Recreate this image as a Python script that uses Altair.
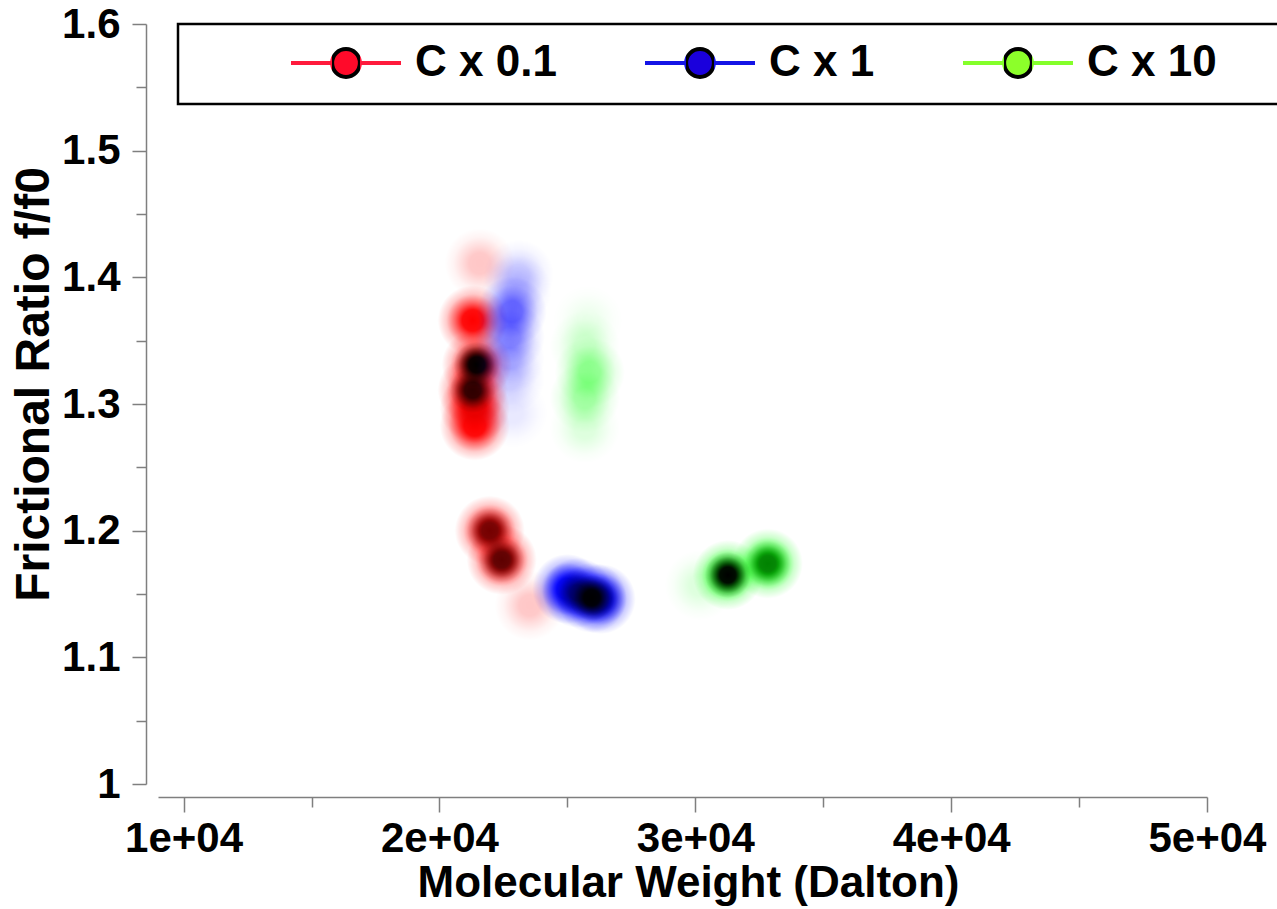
import altair as alt
import pandas as pd

FONT = "Liberation Sans"

SERIES = ["C x 0.1", "C x 1", "C x 10"]
LINE_COLORS = ["#ff1a3c", "#1414e6", "#84ff2a"]
MARKER_COLORS = ["#ff0a2a", "#1a00dc", "#8cff2a"]
BLOB_RGB = [(255, 0, 0), (0, 0, 255), (0, 255, 0)]

# solutes per sample: molecular weight (Da), frictional ratio, relative concentration
RED_MW = [21574, 21300, 21457, 21300, 21378, 21378, 21965, 22434, 23529]
RED_FF0 = [1.411, 1.366, 1.331, 1.311, 1.297, 1.283, 1.200, 1.177, 1.141]
RED_CONC = [0.10, 0.45, 1.00, 0.90, 0.50, 0.45, 0.75, 0.80, 0.10]

BLUE_MW = [23099, 23020, 22825, 22747, 22747, 22747, 22864, 25000, 25400, 25953, 26300]
BLUE_FF0 = [1.402, 1.390, 1.373, 1.353, 1.336, 1.320, 1.293, 1.154, 1.151, 1.147, 1.146]
BLUE_CONC = [0.08, 0.08, 0.25, 0.18, 0.10, 0.08, 0.04, 0.45, 0.75, 1.00, 0.60]

GREEN_MW = [25797, 25680, 25875, 25680, 25680, 30176, 31270, 32835]
GREEN_FF0 = [1.366, 1.346, 1.325, 1.305, 1.281, 1.157, 1.165, 1.174]
GREEN_CONC = [0.03, 0.08, 0.18, 0.15, 0.06, 0.06, 1.00, 0.72]

X_TICKS = [10000, 15000, 20000, 25000, 30000, 35000, 40000, 45000, 50000]
Y_TICKS = [1.0, 1.05, 1.1, 1.15, 1.2, 1.25, 1.3, 1.35, 1.4, 1.45, 1.5, 1.55, 1.6]

HALO_PROFILE = [(0.0, 1.0), (0.3, 0.95), (0.5, 0.6), (0.75, 0.2), (1.0, 0.0)]
CORE_PROFILE = [(0.0, 1.0), (0.35, 0.95), (0.55, 0.6), (0.8, 0.18), (1.0, 0.0)]

# legend glyph: a horizontal line with a circle in the middle (unit half-length = 1)
R = 0.2523
LEGEND_GLYPH = (
    f"M-1,0H{-R} M{R},0H1 "
    f"M{-R},0A{R},{R} 0 1,0 {R},0A{R},{R} 0 1,0 {-R},0Z"
)
# glyph outline: series colour along the line, black around the circle
LINE_COLOR_EXPR = "[{colors}][indexof([{names}], datum.value)]".format(
    colors=", ".join(f"'{c}'" for c in LINE_COLORS),
    names=", ".join(f"'{s}'" for s in SERIES),
)
GLYPH_STROKE_EXPR = (
    "{gradient: 'linear', x1: 0, y1: 0, x2: 1, y2: 0, stops: ["
    "{offset: 0, color: LC}, {offset: 0.372, color: LC}, "
    "{offset: 0.372, color: 'black'}, {offset: 0.628, color: 'black'}, "
    "{offset: 0.628, color: LC}, {offset: 1, color: LC}]}"
).replace("LC", LINE_COLOR_EXPR)


def radial(rgb, profile):
    r, g, b = rgb
    return {
        "gradient": "radial",
        "stops": [{"offset": o, "color": f"rgba({r},{g},{b},{a})"} for o, a in profile],
    }


axis_common = dict(
    grid=False,
    domainColor="#7f7f7f",
    domainWidth=1.5,
    tickColor="#7f7f7f",
    tickWidth=1.5,
    labelFont=FONT,
    labelFontSize=42,
    labelFontWeight="bold",
    labelColor="black",
    labelOverlap=False,
    labelFlush=False,
    titleFont=FONT,
    titleFontWeight="bold",
    titleColor="black",
    titleBaseline="middle",
)

x_axis = alt.Axis(
    values=X_TICKS,
    labelExpr="datum.value % 10000 == 0 ? (datum.value / 10000) + 'e+04' : ''",
    tickSize={"condition": {"test": "datum.value % 10000 == 0", "value": 15}, "value": 10},
    offset=13,
    labelPadding=6,
    title="Molecular Weight (Dalton)",
    titleFontSize=44,
    titleX=530,
    titleY=86,
    **axis_common,
)

y_axis = alt.Axis(
    values=Y_TICKS,
    labelExpr="abs(datum.value * 10 - round(datum.value * 10)) < 0.01 ? format(datum.value, '.1~f') : ''",
    tickSize={"condition": {"test": "abs(datum.value * 10 - round(datum.value * 10)) < 0.01", "value": 14}, "value": 10},
    offset=12,
    labelPadding=12,
    title="Frictional Ratio f/f0",
    titleFontSize=48,
    titleX=-112,
    titleY=360,
    **axis_common,
)

x_enc = alt.X("mw:Q", scale=alt.Scale(domain=[9000, 50000], nice=False, zero=False), axis=x_axis)
y_enc = alt.Y("ff0:Q", scale=alt.Scale(domain=[1.0, 1.6], nice=False, zero=False), axis=y_axis)

samples = [
    (RED_MW, RED_FF0, RED_CONC, BLOB_RGB[0]),
    (BLUE_MW, BLUE_FF0, BLUE_CONC, BLOB_RGB[1]),
    (GREEN_MW, GREEN_FF0, GREEN_CONC, BLOB_RGB[2]),
]

layers = []

# legend frame
layers.append(
    alt.Chart(alt.Data(values=[{"frame": 1}]))
    .mark_rect(fill="white", stroke="black", strokeWidth=2.5)
    .encode(x=alt.value(20), x2=alt.value(1150), y=alt.value(0), y2=alt.value(80))
)

# each solute is drawn as a soft colour halo plus a dark core that grows with concentration
for mw, ff0, conc, rgb in samples:
    df = pd.DataFrame({"mw": mw, "ff0": ff0, "conc": conc})
    base = alt.Chart(df).encode(x=x_enc, y=y_enc)
    halo = base.mark_circle(size=4900, fill=radial(rgb, HALO_PROFILE)).encode(
        opacity=alt.Opacity("conc:Q", scale=alt.Scale(domain=[0, 0.45], range=[0, 1], clamp=True), legend=None)
    )
    core = base.mark_circle(size=2100, fill=radial((0, 0, 0), CORE_PROFILE)).encode(
        opacity=alt.Opacity("conc:Q", scale=alt.Scale(domain=[0.45, 1.0], range=[0, 1], clamp=True), legend=None)
    )
    layers += [halo, core]

legend_layer = (
    alt.Chart(pd.DataFrame({"series": SERIES}))
    .mark_circle(opacity=1)
    .encode(
        fill=alt.Fill(
            "series:N",
            scale=alt.Scale(domain=SERIES, range=MARKER_COLORS),
            legend=alt.Legend(
                orient="none",
                direction="horizontal",
                title=None,
                padding=0,
                legendX=131,
                legendY=-18,
                symbolType=LEGEND_GLYPH,
                symbolSize=12100,
                symbolStrokeWidth=4,
                symbolStrokeColor=alt.ExprRef(expr=GLYPH_STROKE_EXPR),
                symbolOpacity=1,
                labelFont=FONT,
                labelFontSize=44,
                labelFontWeight="bold",
                labelColor="black",
                labelOffset=12,
                columnPadding=80,
            ),
        ),
    )
    .transform_filter("false")
)
layers.append(legend_layer)

chart = (
    alt.layer(*layers)
    .resolve_scale(opacity="independent")
    .properties(
        width=1049,
        height=760,
        padding={"left": 158, "top": 24, "right": 70, "bottom": 125},
        autosize=alt.AutoSizeParams(type="none"),
        background="white",
    )
    .configure_view(stroke=None)
)

chart.save("out.html", embed_options={"renderer": "svg", "actions": False})
